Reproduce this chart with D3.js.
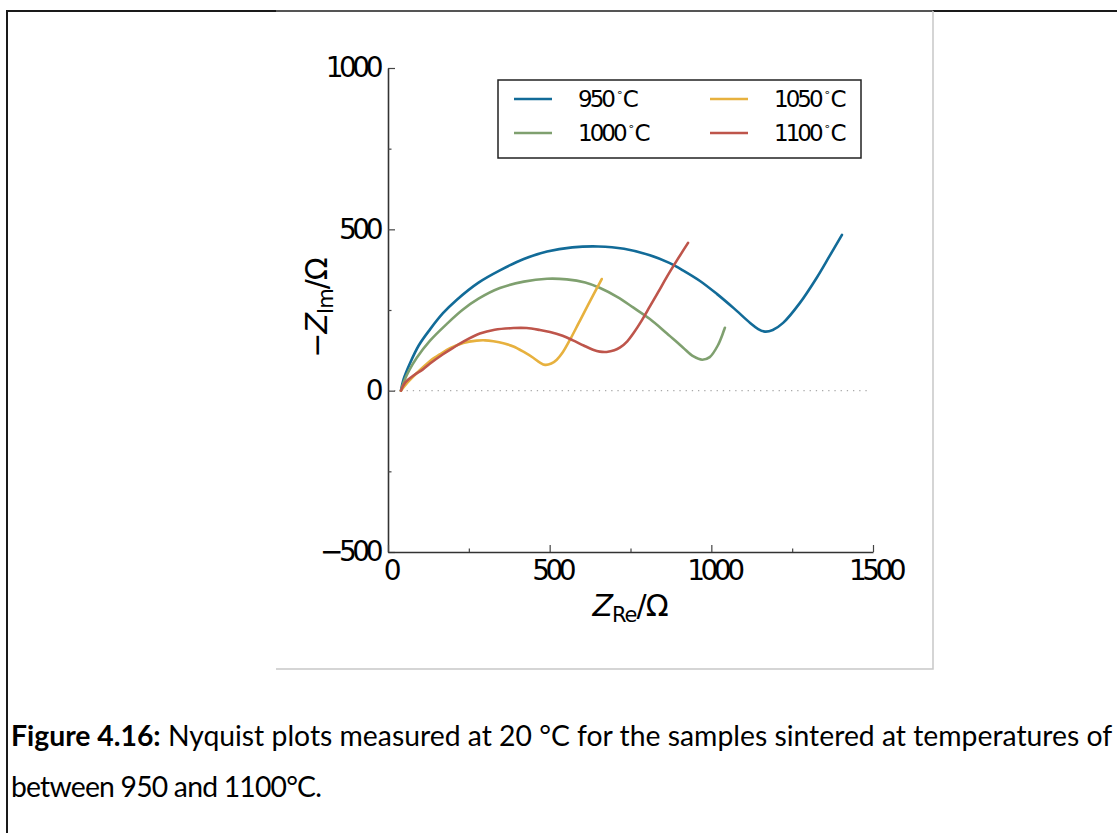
<!DOCTYPE html>
<html>
<head>
<meta charset="utf-8">
<script src="https://cdn.jsdelivr.net/npm/d3@7"></script>
<style>
  body { margin: 0; background: #fff; }
  svg { display: block; }
</style>
</head>
<body>
<div id="chart"></div>
<script>
// sintering temperatures (legend) and their colours
const temps = ["950", "1000", "1050", "1100"];
const colors = ["#126b98", "#7fa06f", "#e7b13e", "#be554b"];

// Nyquist data [Z_Re, -Z_Im] in ohm
const s950 = [[40, 0], [48, 35], [68, 85], [95, 140], [130, 190], [170, 240], [213, 282], [280, 335],
  [346, 373], [420, 408], [492, 431], [570, 444], [650, 447], [730, 440], [810, 420], [870, 396],
  [912, 373], [965, 340], [1017, 300], [1070, 255], [1120, 210], [1145, 191], [1166, 183],
  [1190, 188], [1222, 210], [1274, 272], [1326, 350], [1365, 416], [1404, 483]];
const s1000 = [[40, 0], [50, 30], [65, 62], [89, 102], [130, 155], [182, 207], [230, 250], [280, 285],
  [346, 318], [420, 338], [492, 347], [553, 345], [610, 335], [656, 318], [710, 290], [758, 258],
  [810, 222], [862, 178], [912, 134], [945, 106], [972, 96], [995, 104], [1020, 140], [1042, 195]];
const s1050 = [[40, 0], [60, 25], [99, 64], [130, 92], [161, 113], [195, 133], [233, 148], [274, 155],
  [300, 156], [326, 153], [360, 146], [388, 137], [420, 120], [449, 102], [470, 87], [486, 80],
  [505, 84], [522, 96], [540, 118], [563, 158], [590, 210], [620, 268], [661, 346]];
const s1100 = [[40, 0], [53, 25], [80, 48], [108, 66], [130, 84], [170, 113], [200, 132], [233, 152],
  [284, 177], [330, 189], [388, 194], [429, 194], [470, 188], [501, 182], [540, 170], [572, 156],
  [605, 140], [634, 127], [655, 121], [676, 120], [700, 125], [718, 134], [740, 153], [759, 178],
  [785, 218], [810, 261], [836, 306], [862, 352], [895, 406], [928, 458]];
const series = [s950, s1000, s1050, s1100];

const xTicks = [0, 500, 1000, 1500];
const xMinor = [250, 750, 1250];
const yTicks = [-500, 0, 500, 1000];
const yMinor = [-250, 250, 750];

const captionBold = "Figure 4.16:";
const captionRest = " Nyquist plots measured at 20 °C for the samples sintered at temperatures of";
const captionLine2 = "between 950 and 1100°C.";

const W = 1117, H = 833;
const svg = d3.select("#chart").append("svg").attr("width", W).attr("height", H);
svg.append("rect").attr("width", W).attr("height", H).attr("fill", "#fff");

// page frame + figure frame
svg.append("line").attr("x1", 6).attr("x2", W).attr("y1", 11).attr("y2", 11)
  .attr("stroke", "#1a1a1a").attr("stroke-width", 2);
svg.append("line").attr("x1", 7).attr("x2", 7).attr("y1", 10).attr("y2", H)
  .attr("stroke", "#1a1a1a").attr("stroke-width", 2);
svg.append("line").attr("x1", 276).attr("x2", 933).attr("y1", 11).attr("y2", 11)
  .attr("stroke", "#555").attr("stroke-width", 2);
svg.append("path").attr("d", "M276,669H933V11")
  .attr("fill", "none").attr("stroke", "#c8c8c8").attr("stroke-width", 1.5);

const x = d3.scaleLinear().domain([0, 1500]).range([388, 873]);
const y = d3.scaleLinear().domain([-500, 1000]).range([552, 68]);
const fmt = d3.format("d");

const tickFont = g => g.selectAll("text")
  .attr("font-family", "DejaVu Sans").attr("font-size", 28)
  .attr("letter-spacing", "-4.5px").attr("fill", "#000");

// zero line
svg.append("line").attr("x1", x(0)).attr("x2", x(1490)).attr("y1", y(0)).attr("y2", y(0))
  .attr("stroke", "#aaa").attr("stroke-width", 1.3).attr("stroke-dasharray", "1.3,4.9");

// axes (ticks point inward)
const yAxis = svg.append("g").attr("transform", `translate(${x(0)},0)`)
  .call(d3.axisLeft(y).tickValues(yTicks).tickFormat(fmt)
    .tickSizeInner(-7).tickSizeOuter(0).tickPadding(9));
yAxis.call(tickFont);
svg.append("g").attr("transform", `translate(${x(0)},0)`)
  .call(d3.axisLeft(y).tickValues(yMinor).tickSize(-3.5).tickFormat(""))
  .call(g => g.select(".domain").remove());

const xAxis = svg.append("g").attr("transform", `translate(0,${y(-500)})`)
  .call(d3.axisBottom(x).tickValues(xTicks).tickFormat(fmt)
    .tickSizeInner(-7).tickSizeOuter(0).tickPadding(8));
xAxis.call(tickFont);
xAxis.selectAll("text").attr("dx", "2px");
svg.append("g").attr("transform", `translate(0,${y(-500)})`)
  .call(d3.axisBottom(x).tickValues(xMinor).tickSize(-3.5).tickFormat(""))
  .call(g => g.select(".domain").remove());

svg.selectAll(".domain").attr("stroke", "#333").attr("stroke-width", 1.6);
svg.selectAll(".tick line").attr("stroke", "#444").attr("stroke-width", 1.2);

// curves
const line = d3.line().x(d => x(d[0])).y(d => y(d[1])).curve(d3.curveCatmullRom.alpha(0.5));
svg.append("g").selectAll("path").data(series).join("path")
  .attr("d", line).attr("fill", "none")
  .attr("stroke", (d, i) => colors[i]).attr("stroke-width", 2.6)
  .attr("stroke-linejoin", "round").attr("stroke-linecap", "round");

// axis labels
const xl = svg.append("text").attr("x", 630).attr("y", 616).attr("text-anchor", "middle")
  .attr("font-family", "DejaVu Sans").attr("font-size", 30).attr("letter-spacing", "-1px");
xl.append("tspan").attr("font-style", "italic").text("Z");
xl.append("tspan").attr("font-size", 21).attr("dy", 6).text("Re");
xl.append("tspan").attr("dy", -6).text("/Ω");

const yl = svg.append("text").attr("transform", "translate(327,308) rotate(-90)")
  .attr("text-anchor", "middle")
  .attr("font-family", "DejaVu Sans").attr("font-size", 30).attr("letter-spacing", "-1px");
yl.append("tspan").text("−");
yl.append("tspan").attr("font-style", "italic").text("Z");
yl.append("tspan").attr("font-size", 21).attr("dy", 6).text("Im");
yl.append("tspan").attr("dy", -6).text("/Ω");

// legend
const lg = svg.append("g");
lg.append("rect").attr("x", 498).attr("y", 80).attr("width", 363).attr("height", 78)
  .attr("fill", "#fff").attr("stroke", "#222").attr("stroke-width", 1.5);
const lgPos = [[514, 99], [514, 133], [710, 99], [710, 133]];
temps.forEach((t, i) => {
  const [lx, ly] = lgPos[i];
  lg.append("line").attr("x1", lx).attr("x2", lx + 38).attr("y1", ly).attr("y2", ly)
    .attr("stroke", colors[i]).attr("stroke-width", 2.6);
  const tx = lg.append("text").attr("x", lx + 64).attr("y", ly + 8)
    .attr("font-family", "DejaVu Sans").attr("font-size", 23).attr("letter-spacing", "-3px");
  tx.append("tspan").text(t);
  tx.append("tspan").attr("font-size", 11).attr("dy", -11).attr("dx", 3).text("∘");
  tx.append("tspan").attr("dy", 11).attr("dx", 3).text("C");
});

// caption: size chosen so that line 1 spans the page width like the original
const c1 = svg.append("text").attr("x", 11).attr("y", 746)
  .attr("font-family", "Lato").attr("font-size", 25).attr("fill", "#000");
c1.append("tspan").attr("font-weight", "bold").text(captionBold);
c1.append("tspan").text(captionRest);
const fs = 25 * 1102 / c1.node().getComputedTextLength();
c1.attr("font-size", fs);
svg.append("text").attr("x", 11).attr("y", 797)
  .attr("font-family", "Lato").attr("font-size", fs).attr("fill", "#000")
  .attr("letter-spacing", "-0.8px").text(captionLine2);
</script>
</body>
</html>
